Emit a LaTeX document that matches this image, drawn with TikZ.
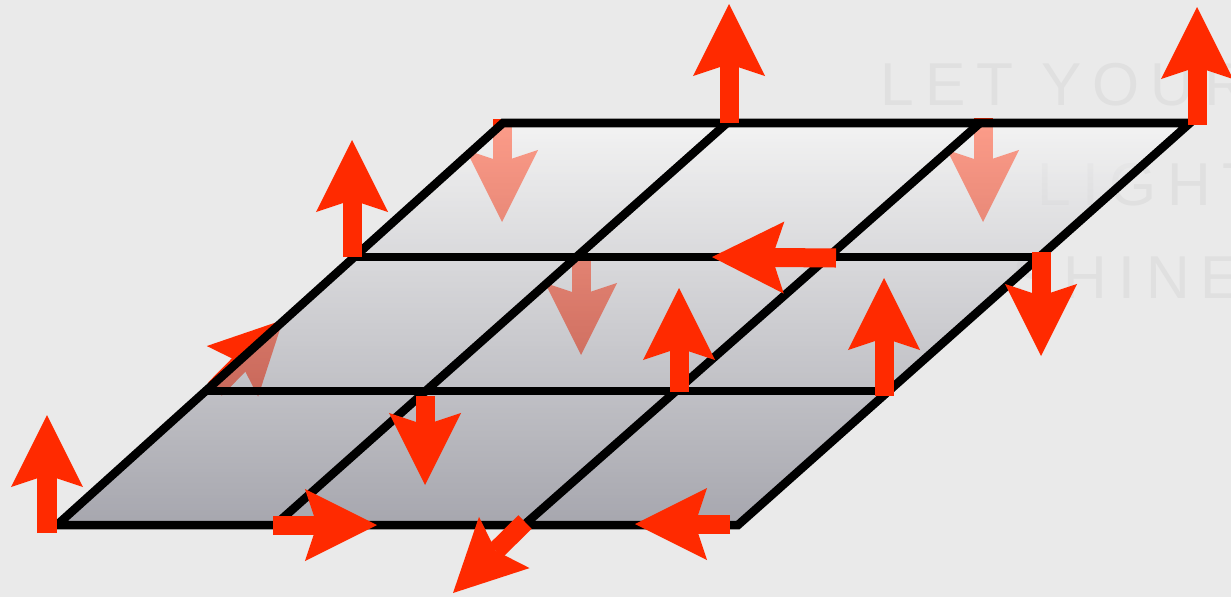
\documentclass[tikz,border=0pt]{standalone}
\usepackage{fontspec}
\usepackage{tikz}
\usetikzlibrary{arrows.meta, calc}
\newfontfamily\markfont[LetterSpace=18]{Liberation Sans}
\definecolor{fieldred}{RGB}{255,42,0}
\definecolor{backgray}{RGB}{234,234,234}
\definecolor{markgray}{RGB}{224,224,224}
\definecolor{surftop}{RGB}{250,250,250}
\definecolor{surfbottom}{RGB}{112,112,126}
\tikzset{
	spin/.style={line width=0.19cm, fieldred, -{Stealth[length=0.72cm, width=0.72cm, inset=0.12cm, line width=0pt]}},
	gridline/.style={line width=0.085cm, line join=miter},
	watermark/.style={markgray, anchor=base west, inner sep=0, font=\markfont\fontsize{17.2}{20}\selectfont},
}

\begin{document}
\begin{tikzpicture}[x=0.01cm, y=-0.01cm]
	\useasboundingbox (0, 0) rectangle (1231, 597);
	\fill[backgray] (0, 0) rectangle (1231, 597);
	\clip (0, 0) rectangle (1231, 597);
	\node[watermark] (let) at (880, 105) {LET YOUR};
	\node[watermark] (light) at (1037, 205) {LIGHT};
	\node[watermark] (shine) at (1012, 298) {SHINE};

	\coordinate (B0) at (57, 525);
	\coordinate (B1) at (275, 525);
	\coordinate (B2) at (524, 525);
	\coordinate (B3) at (738, 525);
	\coordinate (T0) at (503, 123);
	\coordinate (T1) at (727, 123);
	\coordinate (T2) at (980, 123);
	\coordinate (T3) at (1190, 123);
	\coordinate (L1) at ($(B0)!1/3!(T0)$);
	\coordinate (L2) at ($(B0)!2/3!(T0)$);
	\coordinate (R1) at ($(B3)!1/3!(T3)$);
	\coordinate (R2) at ($(B3)!2/3!(T3)$);

	\draw[spin] (502, 119) -- (502, 222);
	\draw[spin] (983, 118) -- (983, 222);
	\draw[spin] (581, 257) -- (581, 355);
	\draw[spin] (215, 389) -- (283, 320);

	\shade[top color=surftop, bottom color=surfbottom, fill opacity=0.55] (B0) -- (B3) -- (T3) -- (T0) -- cycle;

	\draw[gridline] (B0) -- (B3) -- (T3) -- (T0) -- cycle;
	\draw[gridline] (L1) -- (R1) (L2) -- (R2);
	\foreach \i in {1, 2}
		\draw[gridline] (B\i) -- (T\i);

	\draw[spin] (47, 533) -- (47, 415);
	\draw[spin] (273, 525) -- (377, 525);
	\draw[spin] (525, 522) -- (453, 593);
	\draw[spin] (730, 524) -- (635, 524);
	\draw[spin] (425, 396) -- (425, 485);
	\draw[spin] (679, 392) -- (679, 288);
	\draw[spin] (884, 396) -- (884, 278);
	\draw[spin] (1041, 252) -- (1041, 356);
	\draw[spin] (836, 258) -- (712, 257);
	\draw[spin] (352, 257) -- (352, 140);
	\draw[spin] (729, 123) -- (729, 4);
	\draw[spin] (1197, 125) -- (1197, 7);
\end{tikzpicture}
\end{document}
